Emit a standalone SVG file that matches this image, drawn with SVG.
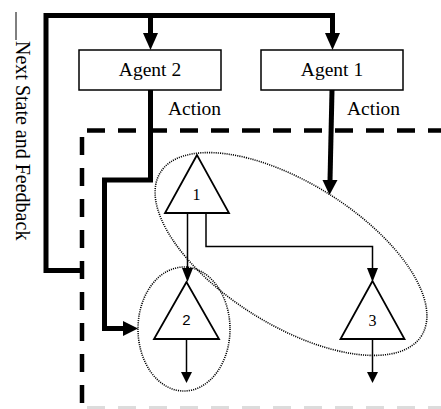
<svg xmlns="http://www.w3.org/2000/svg" width="441" height="409" viewBox="0 0 441 409">
<style>
.box{fill:#fff;stroke:#000;stroke-width:1.5}
.lbl{font-family:"Liberation Serif","Times New Roman",serif;font-size:19.5px;fill:#000}
.num{font-family:"Liberation Serif","Times New Roman",serif;font-size:16px;fill:#000;text-anchor:middle}
.thick{fill:none;stroke:#000;stroke-width:5}
.thin{fill:none;stroke:#000;stroke-width:1.5}
.ah{fill:#000}
.tri{fill:#fff;stroke:#000;stroke-width:1.8}
.dot{fill:none;stroke:#000;stroke-width:1.6;stroke-dasharray:1.1 1.1}
.dash{fill:none;stroke:#000;stroke-width:4.5;stroke-dasharray:18 13}
</style>
<rect width="441" height="409" fill="#fff"/>
<g id="boundary">
<line class="dash" x1="87" y1="130.5" x2="441" y2="130.5"/>
<line class="dash" x1="82" y1="137" x2="82" y2="404"/>
<line x1="87" y1="407.5" x2="441" y2="407.5" stroke="#dcdcdc" stroke-width="3" stroke-dasharray="18 13"/>
</g>
<g id="groups">
<ellipse class="dot" cx="291" cy="254" rx="154" ry="71" transform="rotate(32 291 254)"/>
<ellipse class="dot" cx="184" cy="329" rx="46" ry="62"/>
</g>
<g id="connectors">
<path class="thick" d="M82,270.5 H46 V15.5 H332.5 V34"/>
<polygon class="ah" points="325,33 340,33 332.5,50"/>
<path class="thick" d="M150.5,15.5 V34"/>
<polygon class="ah" points="143,33 158,33 150.5,50"/>
<path class="thick" d="M150.5,90 V180 H104.5 V328.5 H124"/>
<polygon class="ah" points="123,321 123,336 138,328.5"/>
<path class="thick" d="M332,90 L330,181"/>
<polygon class="ah" points="322.5,180 337.5,180 329.5,195"/>
<path class="thin" d="M187.5,213 V269"/>
<polygon class="ah" points="182,268 193,268 187.5,282"/>
<path class="thin" d="M206,213 V246.5 H372.5 V269"/>
<polygon class="ah" points="367,268 378,268 372.5,282"/>
<path class="thin" d="M186.5,339 V373"/>
<polygon class="ah" points="181,372 192,372 186.5,383"/>
<path class="thin" d="M372.5,339 V373"/>
<polygon class="ah" points="367,372 378,372 372.5,383"/>
<line x1="16" y1="12" x2="16" y2="40" stroke="#000" stroke-width="1"/>
</g>
<g id="agent2">
<rect class="box" x="79" y="50" width="142" height="40"/>
<text class="lbl" x="150" y="75.5" text-anchor="middle">Agent 2</text>
</g>
<g id="agent1">
<rect class="box" x="261" y="50" width="142" height="40"/>
<text class="lbl" x="332" y="75.5" text-anchor="middle">Agent 1</text>
</g>
<g id="labels">
<text class="lbl" x="168" y="115">Action</text>
<text class="lbl" x="347" y="115">Action</text>
<text class="lbl" style="font-size:20px" transform="translate(16,41) rotate(90)">Next State and Feedback</text>
</g>
<g id="node1">
<polygon class="tri" points="197,155 165,213 229,213"/>
<text class="num" x="196.5" y="200">1</text>
</g>
<g id="node2">
<polygon class="tri" points="186.5,282 154,339 219,339"/>
<text class="num" x="186.5" y="325" style="font-family:'Liberation Sans',Arial,sans-serif;font-size:15px">2</text>
</g>
<g id="node3">
<polygon class="tri" points="372.5,281 340.5,339 404.5,339"/>
<text class="num" x="372.5" y="325.5">3</text>
</g>
</svg>
